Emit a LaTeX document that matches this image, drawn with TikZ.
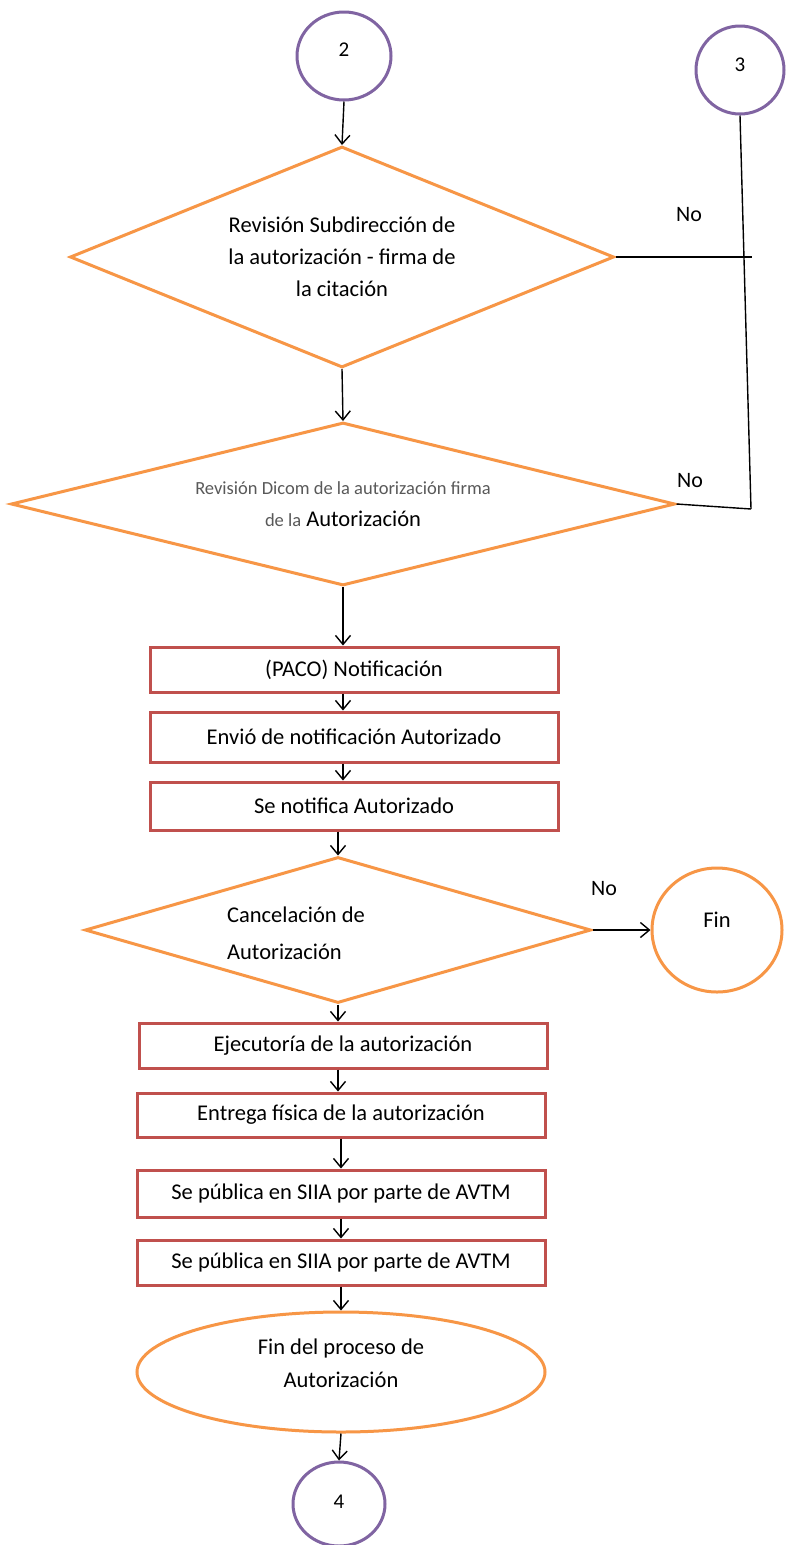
\documentclass[tikz,border=0pt]{standalone}
\usepackage{fontspec}
\setmainfont{Carlito}
\usetikzlibrary{shapes.geometric,arrows.meta}
\definecolor{orng}{HTML}{F79646}
\definecolor{redb}{HTML}{C0504D}
\definecolor{purp}{HTML}{8064A2}
\definecolor{grayt}{HTML}{595959}
\begin{document}
\begin{tikzpicture}[x=1pt,y=-1pt,
 conn/.style={draw=purp,line width=3pt,ellipse,inner sep=0,font=\fontsize{21}{25}\selectfont},
 dec/.style={draw=orng,line width=3pt,diamond,inner sep=0},
 endell/.style={draw=orng,line width=3pt,ellipse,inner sep=0,align=center,font=\fontsize{22.5}{33}\selectfont},
 box/.style={draw=redb,line width=3pt,rectangle,minimum width=408pt,inner sep=0,font=\fontsize{22.5}{26}\selectfont},
 arr/.style={draw=black,line width=1.4pt,-{Straight Barb[length=9pt,width=15pt]}},
 ln/.style={draw=black,line width=1.4pt},
 txt/.style={font=\fontsize{22.5}{32}\selectfont,align=center},
 lbl/.style={font=\fontsize{22}{26}\selectfont}
]
\useasboundingbox (0,0) rectangle (786,1545);
\fill[white] (0,0) rectangle (786,1545);

% connectors (circles)
\node[conn,minimum width=94pt,minimum height=88pt,text depth=12pt] (c2) at (344,56) {2};
\node[conn,minimum width=88pt,minimum height=88pt,text depth=10pt] (c3) at (740,70) {3};
\node[conn,minimum width=92pt,minimum height=84pt,text depth=4pt] (c4) at (339,1504) {4};

% decisions
\node[dec,aspect=2.46,minimum width=544pt,minimum height=221pt,txt] (d1) at (342,257)
  {Revisión Subdirección de\\la autorización - firma de\\la citación};
\node[dec,aspect=4.07,minimum width=664pt,minimum height=163pt,align=center,font=\fontsize{22.5}{32}\selectfont] (d2) at (343,504)
  {{\color{grayt}\fontsize{18.5}{32}\selectfont Revisión Dicom de la autorización firma}\\{\color{grayt}\fontsize{18.5}{20}\selectfont de la} Autorización};
\node[dec,aspect=3.47,minimum width=506pt,minimum height=146pt] (d3) at (338,930) {};
\node[align=left,font=\fontsize{22.5}{37}\selectfont] (d3t) at (296,933) {Cancelación de\\Autorización};

% process boxes
\node[box,minimum height=45pt] (r1) at (354,669.5) {(PACO) Notificación};
\node[box,minimum height=50pt] (r2) at (354,737) {Envió de notificación Autorizado};
\node[box,minimum height=48pt] (r3) at (354,806) {Se notifica Autorizado};
\node[box,minimum height=45pt] (r4) at (343,1045.5) {Ejecutoría de la autorización};
\node[box,minimum height=44pt] (r5) at (341,1115) {Entrega física de la autorización};
\node[box,minimum height=47pt] (r6) at (341,1193.5) {Se pública en SIIA por parte de AVTM};
\node[box,minimum height=45pt] (r7) at (341,1262.5) {Se pública en SIIA por parte de AVTM};

% terminators
\node[endell,minimum width=408pt,minimum height=120pt,text depth=18pt] (e) at (341,1372) {Fin del proceso de\\Autorización};
\node[endell,minimum width=130pt,minimum height=124pt,text depth=20pt] (f) at (717,930) {Fin};

% labels
\node[lbl] (no1) at (689,215) {No};
\node[lbl] (no2) at (690,481) {No};
\node[lbl] (no3) at (604,889) {No};

% junctions
\coordinate (j1) at (752,257);
\coordinate (j2) at (751,509);

% arrows
\draw[arr] (c2.south) -- (d1.north);
\draw[arr] (d1.south) -- (d2.north);
\draw[arr] (d2.south) -- (d2.south |- r1.north);
\draw[arr] (r1.south -| d2.south) -- (r2.north -| d2.south);
\draw[arr] (r2.south -| d2.south) -- (r3.north -| d2.south);
\draw[arr] (r3.south -| d3.north) -- (d3.north);
\draw[arr] (d3.south) -- (d3.south |- r4.north);
\draw[arr] (r4.south -| d3.south) -- (r5.north -| d3.south);
\draw[arr] (r5.south -| e.north) -- (r6.north -| e.north);
\draw[arr] (r6.south -| e.north) -- (r7.north -| e.north);
\draw[arr] (r7.south -| e.north) -- (e.north);
\draw[arr] (e.south) -- (c4.north);
\draw[arr] (d3.east) -- (f.west);

% loop back lines
\draw[ln] (d1.east) -- (j1);
\draw[ln] (c3.south) -- (j2);
\draw[ln] (d2.east) -- (j2);
\end{tikzpicture}
\end{document}
